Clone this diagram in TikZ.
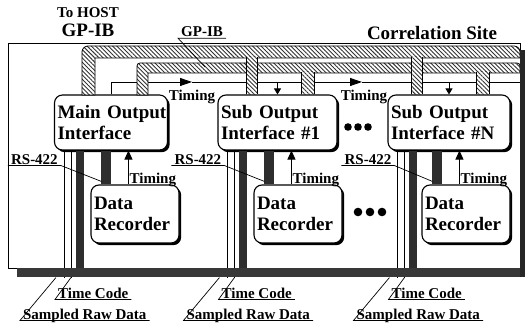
\documentclass[tikz,border=0pt]{standalone}
\usepackage{fontspec}
\setmainfont{Liberation Serif}
\usetikzlibrary{arrows.meta,calc,patterns.meta,shadows}

\tikzset{
  box/.style={draw, line width=1.1pt, rounded corners=8pt, fill=white, align=left,
    inner xsep=3pt, font=\fontsize{19}{21}\selectfont\bfseries,
    drop shadow={shadow xshift=2.2pt, shadow yshift=-2.2pt, fill=black, opacity=1}},
  iface/.style={box, minimum height=55pt},
  recorder/.style={box, minimum height=58pt, text width=82pt},
  tag/.style={font=\fontsize{15}{16}\selectfont\bfseries, inner xsep=3pt, inner ysep=1pt, text depth=0pt},
  busfill/.style={preaction={fill=white}, pattern={Lines[angle=-45, distance=3pt, line width=0.9pt]}, pattern color=black!80},
  bus/.style={busfill, draw, line width=0.8pt},
  cable/.style={line width=0.8pt},
  wall/.style={fill=black!82},
  leader/.style={line width=0.7pt},
}

\begin{document}
\begin{tikzpicture}[x=1pt, y=1pt]
  \useasboundingbox (0,0) rectangle (527,328);
  % site frame
  \draw[line width=0.8pt] (8,60) rectangle (520,285);
  \node[font=\fontsize{19}{21}\selectfont\bfseries, anchor=base] (site) at (432,288) {Correlation Site};
  \node[tag, anchor=base] (host) at (88,310) {To HOST};
  \node[font=\fontsize{19}{21}\selectfont\bfseries, anchor=base] (hostbus) at (88,291) {GP-IB};

  % interfaces and recorders
  \node[iface, text width=107pt] (mo) at (111,205.5) {\mbox{Main Output}\\Interface};
  \node[iface, text width=113pt] (so1) at (277.5,205.5) {Sub Output\\Interface \#1};
  \node[iface, text width=116pt] (soN) at (449,205.5) {Sub Output\\Interface \#N};
  \node[recorder] (dr1) at (135,114) {Data\\Recorder};
  \node[recorder] (dr2) at (298,114) {Data\\Recorder};
  \node[recorder] (dr3) at (466,114) {Data\\Recorder};

  % timing chain
  \coordinate (t1) at (192,246);
  \coordinate (t2) at (362,246);
  \coordinate (t3) at (520,246);
  \draw[cable, -{Triangle[length=12pt,width=8pt]}] (mo.north) |- (t1);
  \draw[cable, -{Triangle[length=12pt,width=8pt]}] (t1) -- (t2);
  \draw[cable] (t2) -- (t3);
  \draw[cable, -{Triangle[length=6pt,width=7pt]}] (so1.north |- t1) -- (so1.north);
  \draw[cable, -{Triangle[length=6pt,width=7pt]}] (soN.north |- t1) -- (soN.north);
  \node[tag] (tm1) at (192,233) {Timing};
  \node[tag] (tm2) at (364,233) {Timing};

  % GP-IB buses
  \path[bus] (82,233) [rounded corners=6pt] -- (82,282) -- (520,282) [sharp corners] -- (520,270) -- (95,270) -- (95,233) -- cycle;
  \path[bus] (137,233) [rounded corners=3pt] -- (137,265) -- (520,265) [sharp corners] -- (520,255) -- (148,255) -- (148,233) -- cycle;
  \foreach \io/\dx/\w/\h in {so1/29/11/37, soN/24/11/37, so1/84/13/22, soN/89/13/22} {
    \path[busfill] ($(\io.north west)+(\dx,0)$) rectangle ++(\w,\h+0.5);
    \draw[cable] ($(\io.north west)+(\dx,0)$) -- ++(0,\h) ++(\w,0) -- ++(0,-\h);
  }
  \node[tag, anchor=base west] (gpib) at (178,291) {GP-IB};
  \draw[leader] (gpib.south east) -- (gpib.south west) -- (205,261);

  % cables, RS-422 links and labels of each station
  \foreach \io/\rec in {mo/dr1, so1/dr2, soN/dr3} {
    \draw[cable] ($(\io.south west)+(10,0)$) -- ++(0,-127);
    \draw[cable] ($(\io.south west)+(17,0)$) -- ++(0,-127);
    \fill[wall] ($(\io.south west)+(22,0)$) rectangle ++(8,-118);
    \fill[wall] ($(\rec.north west)+(11,0)$) rectangle ($(\rec.north west |- \io.south)+(21,0)$);
    \draw[cable, -{Triangle[length=9pt,width=8pt]}] ($(\rec.north west)+(38,0)$) -- ($(\rec.north west |- \io.south)+(38,0)$);
    \node[tag, anchor=south west, inner xsep=1pt] (tu-\io) at ($(\rec.north west)+(38,0)$) {Timing};
    \node[tag, anchor=south east] (rs-\io) at ($(\io.south west)+(7,-15)$) {RS-422};
    \draw[leader] (rs-\io.south west) -- (rs-\io.south east) -- ($(\rec.north west)+(11,3)$);
    \node[tag, anchor=south west] (tc-\io) at ($(\io.south west)+(1,-149)$) {Time Code};
    \node[tag, anchor=south west] (sr-\io) at ($(\io.south west)+(-34,-170)$) {Sampled Raw Data};
    \draw[leader] (tc-\io.south east) -- (tc-\io.south west) -- ($(\io.south west)+(17,-127)$);
    \draw[leader] (sr-\io.south east) -- (sr-\io.south west) -- ($(\io.south west)+(2,-127)$);
  }

  % frame shadow
  \fill[black!78] (17,51) rectangle (525,60);
  \fill[black!85] (520,51) rectangle (525,278);

  % more stations
  \foreach \x in {348,358,368} \fill (\x,201) circle (3.8pt);
  \foreach \x in {358,370,382} \fill (\x,116) circle (4.3pt);
\end{tikzpicture}
\end{document}
